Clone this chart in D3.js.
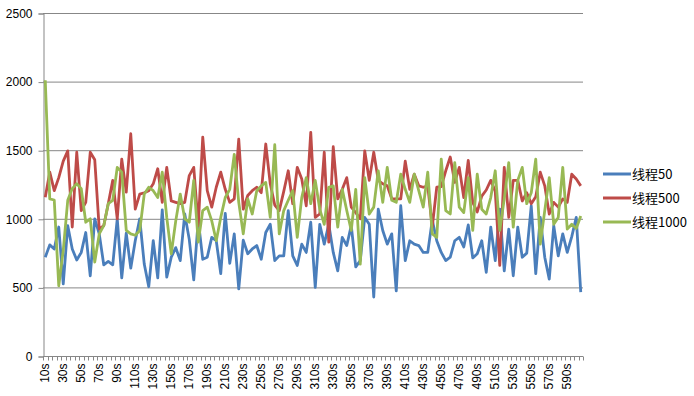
<!DOCTYPE html>
<html>
<head>
<meta charset="utf-8">
<script src="https://cdn.jsdelivr.net/npm/d3@7.9.0/dist/d3.min.js"></script>
<style>
  body { margin: 0; background: #fff; }
  text { font-family: "Liberation Sans", Arial, sans-serif; fill: #000; }
  .legend text { font-family: "Noto Sans CJK SC", "Liberation Sans", sans-serif; }
</style>
</head>
<body>
<svg id="chart" width="694" height="396"></svg>
<script>
// x categories: 10s .. 605s every 5s
const times = d3.range(10, 606, 5).map(t => t + 's');
const yTicks = [0, 500, 1000, 1500, 2000, 2500];
const seriesNames = ['线程50', '线程500', '线程1000'];

const thread50 = [
  720, 810, 780, 940, 525, 950, 780, 700, 755, 900,
  585, 1000, 890, 665, 690, 665, 1000, 570, 895, 640,
  840, 1000, 670, 505, 840, 570, 1065, 575, 720, 790,
  695, 1035, 850, 555, 990, 705, 720, 865, 840, 600,
  1040, 675, 890, 490, 845, 745, 780, 805, 705, 900,
  960, 695, 730, 730, 1060, 730, 660, 815, 755, 975,
  500, 960, 815, 960, 755, 620, 865, 805, 950, 650,
  695, 1010, 960, 430, 1070, 915, 815, 890, 475, 1095,
  695, 840, 815, 805, 755, 755, 990, 840, 755, 695,
  720, 840, 865, 795, 955, 715, 745, 840, 610, 940,
  695, 1070, 620, 925, 585, 940, 720, 750, 1095, 600,
  1010, 720, 560, 950, 730, 890, 755, 870, 1010, 465
];

const thread500 = [
  1157, 1340, 1205, 1300, 1420, 1495, 940, 1485, 1060, 1120,
  1485, 1430, 925, 950, 1110, 1280, 1000, 1435, 1195, 1620,
  1070, 1180, 1190, 1205, 1255, 1365, 1120, 1375, 1130, 1120,
  1110, 1120, 1315, 1375, 950, 1595, 1205, 1085, 1230, 1340,
  1215, 1120, 1145, 1580, 1070, 1170, 1205, 1230, 1190, 1545,
  1255, 1100, 1060, 1200, 1350, 1110, 1375, 1290, 1095, 1630,
  1010, 1035, 1485, 830, 1525, 1145, 1215, 1300, 1085, 1045,
  1000, 1495, 1280, 1485, 1280, 1255, 1240, 1145, 1145, 1145,
  1420, 1215, 1325, 1240, 1230, 1240, 940, 1230, 1235, 1350,
  1450, 1265, 1375, 1155, 1425, 1120, 1050, 1165, 1210, 1280,
  1200, 660, 1375, 1010, 1280, 1280, 1130, 1190, 1110, 1160,
  1340, 1240, 1035, 1120, 1085, 1145, 1120, 1325, 1290, 1240
];

const thread1000 = [
  2010, 1145, 1137, 512, 770, 1135, 1220, 1255, 1220, 975,
  1000, 685, 890, 950, 1110, 1135, 1375, 1340, 915, 890,
  880, 915, 1180, 1230, 1205, 1155, 1340, 1010, 745, 985,
  1180, 1000, 975, 1280, 830, 1060, 1085, 985, 840, 1010,
  1155, 1215, 1470, 1120, 890, 1145, 1035, 1205, 1240, 1265,
  1010, 1540, 890, 1060, 1135, 1205, 865, 1155, 1300, 1110,
  1280, 1070, 960, 1230, 1240, 940, 1215, 1060, 915, 1215,
  670, 1300, 1035, 1085, 1350, 1120, 1375, 1135, 1120, 1325,
  1215, 1120, 1325, 1205, 1085, 1340, 890, 865, 1435, 1060,
  1035, 1410, 1085, 1045, 1300, 915, 1325, 1070, 1035, 1155,
  1350, 915, 1145, 1410, 940, 1280, 1375, 1110, 1190, 1435,
  815, 1060, 1300, 960, 1010, 1375, 925, 960, 930, 1020
];

const colors = ['#4A7EBB', '#BE4B48', '#98B954'];
const allSeries = [thread50, thread500, thread1000];

const svg = d3.select('#chart');
svg.append('rect').attr('width', 694).attr('height', 396).attr('fill', '#fff');

const plotLeft = 43, plotRight = 583, plotTop = 13, plotBottom = 356;
const gridColor = '#878787';

let x = d3.scaleBand().domain(times).range([plotLeft, plotRight]);
let y = d3.scaleLinear().domain([0, 2500]).range([plotBottom, plotTop]);

// gridlines
svg.append('g')
  .selectAll('line')
  .data(yTicks.filter(d => d > 0))
  .join('line')
  .attr('x1', plotLeft).attr('x2', plotRight)
  .attr('y1', d => y(d) + 0.5).attr('y2', d => y(d) + 0.5)
  .attr('stroke', gridColor).attr('stroke-width', 1);

// y axis
let yAxis = svg.append('g')
  .attr('transform', `translate(${plotLeft + 0.5},0.5)`)
  .call(d3.axisLeft(y).tickValues(yTicks).tickFormat(d3.format('d')).tickSize(5).tickPadding(6));
yAxis.select('.domain').attr('stroke', gridColor);
yAxis.selectAll('.tick line').attr('stroke', gridColor);
yAxis.selectAll('text').attr('font-size', 12).attr('fill', '#000')
  .style('font-family', '"Liberation Sans", Arial, sans-serif');

// x axis: a tick at every category border, label every 4th category
let xAxis = svg.append('g').attr('transform', `translate(0,${plotBottom + 0.5})`);
xAxis.append('line')
  .attr('x1', plotLeft).attr('x2', plotRight)
  .attr('stroke', gridColor);
xAxis.selectAll('.tk')
  .data(times.concat(['end']))
  .join('line')
  .attr('class', 'tk')
  .attr('x1', (d, i) => Math.round(plotLeft + i * x.step()) + 0.5)
  .attr('x2', (d, i) => Math.round(plotLeft + i * x.step()) + 0.5)
  .attr('y1', 0).attr('y2', 4)
  .attr('stroke', gridColor);
xAxis.selectAll('.lbl')
  .data(times.filter((d, i) => i % 4 === 0))
  .join('text')
  .attr('class', 'lbl')
  .attr('font-size', 12)
  .attr('text-anchor', 'end')
  .attr('transform', d => `translate(${x(d) + x.bandwidth() / 2 + 4},7) rotate(-90)`)
  .text(d => d);

// lines
let line = d3.line()
  .x((d, i) => x(times[i]) + x.bandwidth() / 2)
  .y(d => y(d));

allSeries.forEach((s, k) => {
  svg.append('path')
    .datum(s)
    .attr('d', line)
    .attr('fill', 'none')
    .attr('stroke', colors[k])
    .attr('stroke-width', 2.8)
    .attr('stroke-linejoin', 'round');
});

// legend
let legend = svg.append('g').attr('class', 'legend');
seriesNames.forEach((name, k) => {
  let ly = 174 + k * 24;
  legend.append('line')
    .attr('x1', 603).attr('x2', 631)
    .attr('y1', ly).attr('y2', ly)
    .attr('stroke', colors[k]).attr('stroke-width', 3);
  legend.append('text')
    .attr('x', 632).attr('y', ly + 5)
    .attr('font-size', 13)
    .text(name);
});
</script>
</body>
</html>
